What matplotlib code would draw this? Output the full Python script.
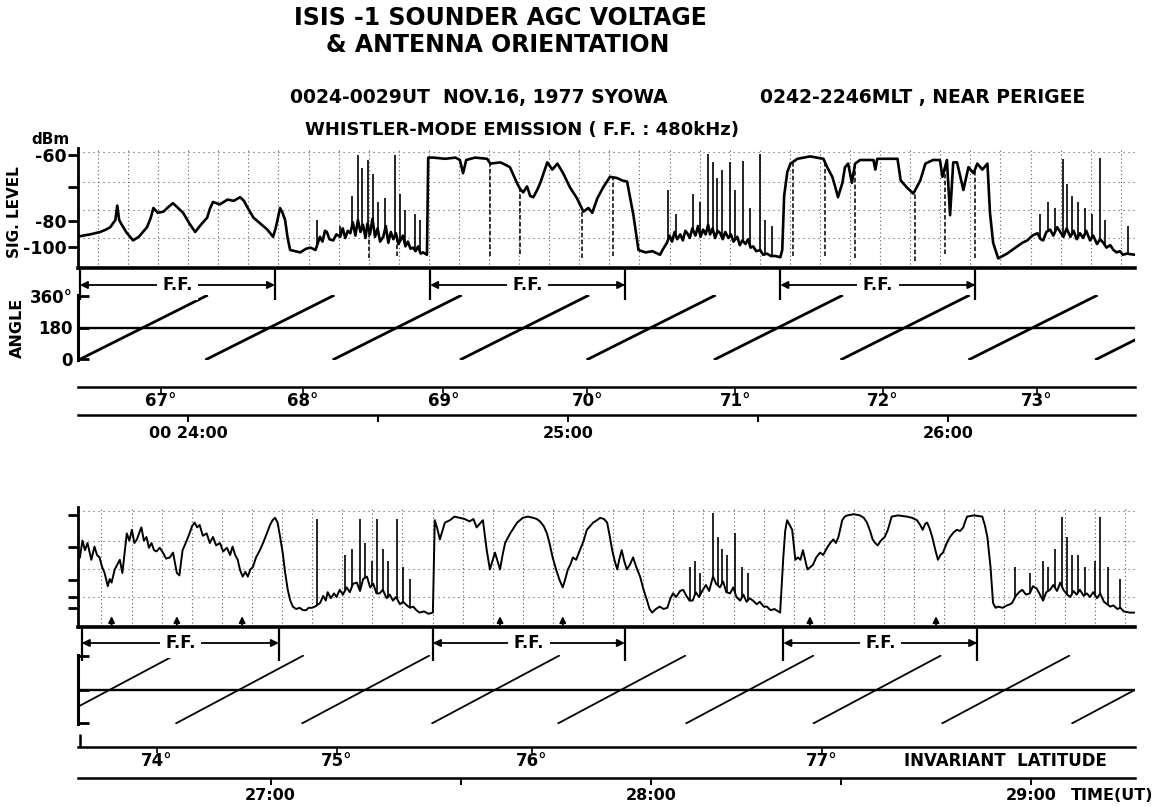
import matplotlib

matplotlib.use("Agg")
import matplotlib.pyplot as plt
import numpy as np
from matplotlib.ticker import MultipleLocator, NullLocator
from matplotlib.transforms import blended_transform_factory

plt.rcParams["font.family"] = ["DejaVu Sans"]
plt.rcParams["font.weight"] = "bold"

W, H = 1153, 807  # output size, pixels

# time: seconds after 00:24:00 UT
# signal: AGC recorder level, % of full scale above the base line
# angle: antenna orientation, degrees

# ---------------- upper strip ----------------
top_xlim = (-17.4, 149.5)
top_trace = [
    (-17.5, 26), (-16.6, 27), (-15.5, 28), (-13.9, 30), (-13.0, 32), (-12.3, 34),
    (-11.5, 40), (-11.2, 52), (-10.9, 40), (-10.7, 38), (-9.8, 30), (-8.7, 23),
    (-7.8, 26), (-6.5, 34), (-5.9, 42), (-5.5, 50), (-4.8, 46), (-3.9, 47),
    (-3.1, 51), (-2.4, 54), (-1.6, 50), (-0.8, 46), (0.2, 37), (1.1, 30),
    (2.0, 36), (3.0, 42), (3.4, 49), (3.9, 55), (5.0, 53), (6.2, 57), (7.2, 56),
    (8.2, 59), (8.8, 56), (9.3, 51), (10.3, 42), (11.4, 37), (12.5, 32),
    (13.4, 26), (13.8, 33), (14.1, 40), (14.5, 50), (14.9, 46), (15.3, 40),
    (15.7, 25), (16.1, 15), (17.7, 13), (18.6, 16), (19.3, 17), (20.1, 15),
    (20.8, 26), (21.2, 22), (21.6, 31), (21.9, 30), (22.3, 24), (22.9, 23),
    (23.4, 28), (24.0, 26), (24.4, 33), (24.8, 25), (25.2, 31), (25.6, 29),
    (26.0, 38), (26.4, 27), (26.8, 40), (27.2, 30), (27.6, 36), (28.0, 25),
    (28.3, 37), (28.7, 28), (29.1, 41), (29.5, 26), (29.9, 33), (30.3, 22),
    (30.8, 26), (31.2, 35), (31.6, 21), (32.0, 30), (32.4, 24), (32.8, 29),
    (33.2, 20), (33.5, 23), (33.9, 27), (34.3, 18), (34.7, 22), (35.1, 16),
    (35.5, 17), (35.9, 14), (36.3, 18), (36.7, 12), (37.1, 13), (37.7, 11),
    (37.9, 92), (38.7, 92), (40.6, 91), (42.2, 92), (42.9, 90), (43.4, 79),
    (43.9, 90), (45.3, 92), (47.2, 91), (47.7, 87), (49.3, 88), (50.1, 86),
    (50.8, 84), (51.9, 71), (52.4, 66), (52.9, 63), (53.5, 68), (54.0, 60),
    (54.5, 59), (55.1, 65), (55.6, 71), (56.7, 88), (57.5, 82), (58.3, 87),
    (59.2, 79), (60.3, 67), (61.4, 58), (62.4, 47), (63.2, 50), (63.8, 46),
    (64.6, 58), (65.5, 67), (66.6, 76), (67.7, 75), (68.5, 73), (69.3, 72),
    (70.3, 44), (71.1, 15), (72.2, 13), (73.3, 14), (74.5, 11), (75.0, 16),
    (75.6, 21), (76.0, 27), (76.4, 22), (76.8, 30), (77.2, 24), (77.7, 28),
    (78.1, 23), (78.5, 31), (78.8, 29), (79.2, 25), (79.6, 33), (80.1, 27),
    (80.5, 35), (80.9, 26), (81.3, 32), (81.7, 28), (82.1, 36), (82.4, 28),
    (82.8, 33), (83.2, 25), (83.6, 31), (84.0, 29), (84.4, 24), (84.8, 30),
    (85.3, 25), (85.7, 28), (86.1, 22), (86.7, 26), (87.1, 19), (87.5, 23),
    (88.0, 20), (88.4, 24), (88.8, 17), (89.2, 18), (89.7, 14), (90.3, 15),
    (90.8, 11), (91.4, 12), (92.0, 10), (92.7, 10), (93.5, 9),
    (93.8, 15), (94.1, 60), (94.6, 80), (95.1, 87), (96.2, 91), (98.2, 93),
    (100.3, 91), (100.9, 84), (101.7, 76), (102.2, 67), (102.6, 59), (103.3, 71),
    (103.7, 84), (104.2, 87), (104.8, 71), (105.3, 87), (106.1, 90), (108.2, 90),
    (108.5, 82), (108.8, 91), (112.0, 91), (112.5, 73), (113.5, 67), (114.5, 62),
    (115.6, 73), (116.4, 87), (117.6, 90), (118.7, 90), (119.1, 76), (119.8, 90),
    (120.3, 44), (120.8, 88), (121.4, 88), (122.4, 65), (123.2, 84), (124.0, 79),
    (124.6, 87), (125.4, 82), (126.2, 87), (126.6, 46), (127.1, 21), (127.9, 8),
    (128.6, 10), (129.3, 12), (130.1, 15), (130.9, 18), (131.7, 21), (132.5, 23),
    (133.3, 27), (134.1, 29), (134.6, 24), (135.0, 23), (135.5, 30), (136.1, 32),
    (136.6, 27), (137.2, 34), (137.7, 30), (138.2, 26), (138.7, 33), (139.3, 26),
    (139.8, 31), (140.3, 24), (140.8, 29), (141.3, 25), (141.8, 31), (142.4, 23),
    (142.9, 27), (143.5, 20), (144.0, 24), (144.5, 21), (145.0, 17), (145.6, 19),
    (146.1, 15), (146.6, 13), (147.1, 14), (147.6, 11), (148.2, 12), (149.5, 11),
]
top_spikes = [
    (20.4, 40), (24.0, 35), (25.9, 60), (26.8, 94), (27.5, 83), (28.4, 90),
    (29.2, 78), (30.0, 55), (31.1, 58), (32.7, 94), (33.5, 62), (34.3, 48),
    (35.8, 45), (36.6, 40), (75.8, 65), (77.1, 45), (79.7, 62), (80.8, 55),
    (82.1, 95), (82.9, 88), (83.5, 75), (84.3, 82), (85.6, 88), (86.4, 65),
    (87.6, 89), (88.7, 50), (90.3, 95), (91.1, 40), (92.2, 35), (134.5, 45),
    (135.8, 55), (136.9, 50), (138.2, 91), (138.8, 70), (139.6, 60), (140.5, 55),
    (141.6, 50), (142.7, 45), (144.0, 92), (144.8, 40), (148.4, 35),
]
top_dropouts = [
    (28.6, 8), (33.0, 10), (47.7, 10), (52.4, 12), (62.2, 8), (67.0, 10),
    (95.5, 10), (100.6, 10), (105.3, 8), (114.8, 6), (119.5, 12), (124.3, 8),
]
top_ramps = [
    (-17.1, 2.9), (2.9, 22.9), (23.0, 43.0), (43.1, 63.1), (63.1, 83.1),
    (83.2, 103.2), (103.2, 123.2), (123.4, 143.4), (143.4, 163.4),
]
top_ff = [(-17.1, 13.7), (38.2, 69.0), (93.5, 124.3)]
top_lat = [(-4.3, "67°"), (18.1, "68°"), (40.3, "69°"), (63.0, "70°"),
           (86.4, "71°"), (109.7, "72°"), (134.0, "73°")]
top_times = [(0, "00 24:00"), (30, ""), (60, "25:00"), (90, ""), (120, "26:00")]

# ---------------- lower strip ----------------
bot_xlim = (149.6, 316.4)
bot_trace = [
    (149.9, 58), (150.3, 72), (150.7, 64), (151.1, 70), (151.7, 56), (152.2, 67),
    (152.6, 60), (153.0, 58), (153.4, 50), (153.8, 45), (154.3, 34), (154.6, 40),
    (154.9, 37), (155.4, 48), (155.8, 52), (156.2, 56), (156.6, 45), (157.3, 78),
    (157.7, 72), (158.1, 81), (158.5, 70), (158.9, 73), (159.3, 79), (159.6, 83),
    (160.0, 72), (160.4, 75), (160.8, 66), (161.2, 70), (161.6, 64), (162.0, 63),
    (162.5, 66), (163.0, 62), (163.5, 57), (164.1, 58), (164.6, 62), (165.2, 45),
    (165.6, 43), (166.1, 64), (166.6, 70), (167.2, 78), (167.6, 84), (168.0, 87),
    (168.4, 83), (168.8, 85), (169.3, 76), (169.9, 78), (170.4, 70), (170.9, 75),
    (171.4, 68), (172.0, 70), (172.5, 63), (173.1, 66), (173.6, 60), (174.0, 67),
    (174.4, 60), (174.8, 56), (175.2, 47), (175.6, 42), (176.0, 46), (176.4, 42),
    (176.8, 48), (177.2, 50), (177.7, 58), (178.3, 64), (178.8, 70), (179.4, 78),
    (179.9, 85), (180.3, 89), (180.7, 91), (181.1, 87), (181.5, 75), (181.9, 62),
    (182.3, 45), (182.7, 31), (183.1, 22), (183.5, 17), (184.0, 15), (184.6, 16),
    (185.1, 14), (185.6, 14), (186.0, 16), (186.5, 16), (187.0, 17),
    (187.8, 20), (188.3, 26), (188.7, 22), (189.0, 29), (189.5, 24), (190.0, 28),
    (190.4, 25), (190.9, 31), (191.4, 27), (192.0, 33), (192.5, 29), (193.0, 36),
    (193.6, 37), (194.1, 30), (194.6, 40), (195.2, 42), (195.7, 33), (196.2, 36),
    (196.7, 28), (197.2, 28), (197.7, 31), (198.3, 24), (198.8, 27), (199.3, 22),
    (199.8, 25), (200.4, 19), (200.9, 21), (201.5, 18), (202.0, 16), (202.5, 17),
    (203.0, 14), (203.5, 12), (204.2, 13), (204.9, 11), (205.6, 12),
    (205.9, 89), (206.3, 82), (206.7, 73), (207.1, 80), (207.5, 87), (208.3, 89),
    (209.0, 92), (209.8, 91), (210.6, 90), (211.4, 88), (212.0, 90), (212.5, 83),
    (213.0, 86), (213.5, 89), (214.1, 64), (214.6, 48), (215.0, 55), (215.4, 62),
    (215.8, 55), (216.2, 48), (216.6, 60), (217.0, 70), (217.8, 78), (218.4, 83),
    (218.9, 87), (219.8, 91), (220.6, 92), (221.4, 91), (222.0, 90), (222.5, 88),
    (223.1, 84), (223.6, 78), (224.0, 70), (224.5, 58), (225.1, 47), (225.6, 39),
    (226.1, 33), (226.5, 40), (226.9, 48), (227.3, 52), (227.7, 58), (228.2, 56),
    (228.8, 64), (229.4, 72), (229.9, 81), (230.4, 84), (230.9, 87), (231.5, 89),
    (232.0, 91), (232.6, 90), (233.1, 87), (233.5, 76), (233.9, 64), (234.3, 55),
    (234.7, 48), (235.0, 56), (235.4, 64), (235.8, 55), (236.2, 48), (236.7, 52),
    (237.2, 58), (237.7, 50), (238.3, 42), (238.8, 32), (239.4, 22), (239.8, 15),
    (240.2, 12), (240.8, 15), (241.4, 17), (242.0, 15),
    (242.6, 16), (243.1, 24), (243.5, 28), (244.0, 25), (244.6, 30), (245.1, 31),
    (245.6, 26), (246.1, 22), (246.6, 22), (247.1, 29), (247.6, 25), (248.2, 31),
    (248.7, 35), (249.2, 30), (249.8, 42), (250.3, 36), (250.9, 33), (251.4, 38),
    (251.9, 29), (252.5, 28), (253.0, 33), (253.5, 25), (254.1, 22), (254.6, 27),
    (255.1, 21), (255.6, 24), (256.1, 22), (256.7, 19), (257.2, 21), (257.8, 17),
    (258.3, 17), (258.9, 14), (259.5, 15), (260.4, 12),
    (260.9, 58), (261.2, 80), (261.5, 89), (261.9, 85), (262.3, 81), (262.8, 56),
    (263.2, 58), (263.6, 56), (264.0, 64), (264.4, 55), (264.7, 48), (265.2, 50),
    (265.6, 52), (266.1, 58), (266.7, 62), (267.2, 60), (267.8, 66), (268.3, 70),
    (268.8, 73), (269.2, 70), (269.6, 75), (269.9, 82), (270.2, 89), (270.6, 92),
    (271.0, 93), (272.0, 94), (273.0, 93), (273.6, 91), (274.1, 87), (274.6, 80),
    (275.0, 73), (275.4, 70), (275.8, 68), (276.3, 72), (276.9, 75), (277.4, 81),
    (278.0, 92), (279.0, 93), (280.4, 92), (281.2, 91), (282.0, 89), (282.5, 85),
    (282.9, 81), (283.3, 86), (283.6, 87), (284.0, 82), (284.4, 75), (284.9, 64),
    (285.3, 56), (285.7, 60), (286.1, 62), (286.7, 70), (287.2, 75), (287.8, 79),
    (288.3, 81), (288.8, 80), (289.3, 83), (289.6, 88), (289.9, 92), (291.0, 93),
    (292.3, 92), (292.7, 85), (293.1, 75), (293.4, 60), (293.6, 50), (293.8, 35),
    (294.0, 20), (294.4, 16), (294.8, 17), (295.5, 16),
    (296.2, 18), (296.7, 19), (297.0, 20), (297.6, 26), (298.1, 29), (298.6, 31),
    (299.2, 27), (299.8, 28), (300.3, 34), (300.9, 32), (301.4, 27), (301.9, 22),
    (302.4, 29), (303.0, 31), (303.5, 35), (304.1, 30), (304.6, 37), (305.1, 31),
    (305.7, 27), (306.2, 25), (306.7, 30), (307.2, 27), (307.7, 31), (308.3, 26),
    (308.8, 28), (309.3, 25), (309.8, 29), (310.4, 24), (310.9, 28), (311.5, 21),
    (312.0, 19), (312.5, 17), (313.0, 18), (313.6, 15), (314.1, 16), (314.6, 13),
    (315.6, 12), (316.4, 12),
]
bot_spikes = [
    (187.3, 90), (191.7, 60), (192.8, 65), (194.1, 90), (194.9, 70), (196.0, 55),
    (196.8, 90), (197.7, 65), (198.5, 55), (199.9, 90), (200.9, 50), (202.0, 40),
    (246.2, 50), (247.0, 55), (247.8, 45), (249.8, 95), (250.6, 75), (251.2, 65),
    (252.0, 60), (253.3, 78), (254.4, 50), (255.4, 45), (297.5, 50), (299.8, 45),
    (301.9, 55), (302.7, 50), (303.8, 65), (304.9, 92), (305.7, 75), (306.5, 60),
    (307.4, 60), (308.5, 50), (310.1, 55), (310.9, 92), (312.2, 50), (314.1, 40),
]
bot_dropouts = []
bot_ramps = [
    (144.7, 164.7), (165.1, 185.1), (185.0, 205.0), (205.5, 225.5), (225.4, 245.4),
    (245.6, 265.6), (265.7, 285.7), (286.0, 306.0), (306.5, 326.5),
]
bot_ff = [(150.2, 181.3), (205.6, 235.9), (260.9, 291.5)]
bot_marks = [154.9, 165.2, 175.5, 216.2, 226.1, 265.1, 285.0]
bot_lat = [(162.0, "74°"), (190.4, "75°"), (221.2, "76°"), (267.0, "77°")]
bot_times = [(180, "27:00"), (210, ""), (240, "28:00"), (270, ""), (300, "29:00")]

# recorder calibration (dBm) and chart-paper grid, in recorder level
top_level_ticks = [94, 67.5, 39, 17.5]
top_level_labels = ["-60", "", "-80", "-100"]
bot_level_ticks = [93, 67, 39, 25, 16]
grid_levels = [97, 72, 48, 25]


def add_axes(fig, x0, y0, x1, y1):
    # pixel box (top-left origin) -> axes
    return fig.add_axes([x0 / W, 1 - y1 / H, (x1 - x0) / W, (y1 - y0) / H])


def signal_panel(fig, y0, y1, xlim, trace, spikes, dropouts, ticks, labels,
                 grid_offset, pen):
    ax = add_axes(fig, 78, y0, 1135, y1)
    t, lev = np.array(trace).T
    ax.set_xlim(xlim)
    ax.set_ylim(0, 100)
    for s in ("top", "right"):
        ax.spines[s].set_visible(False)
    ax.spines["left"].set_linewidth(2)
    ax.spines["bottom"].set_linewidth(2.6)
    ax.set_yticks(ticks, labels)
    ax.tick_params(axis="y", direction="out", length=7, width=2, labelsize=12.5, pad=1)
    ax.xaxis.set_major_locator(NullLocator())
    ax.xaxis.set_minor_locator(MultipleLocator(4.75, offset=grid_offset))
    ax.tick_params(axis="x", which="minor", length=0)
    ax.grid(True, which="minor", axis="x", color="0.35", lw=0.8, ls=(0, (1, 2.5)))
    for g in grid_levels:
        ax.axhline(g, color="0.35", lw=0.8, ls=(0, (1, 3.5)))
    ax.plot(t, lev, color="k", lw=pen, solid_joinstyle="round")
    if spikes:
        st, sl = np.array(spikes).T
        ax.vlines(st, np.interp(st, t, lev), sl, colors="k", lw=1.2)
    if dropouts:
        dt, dl = np.array(dropouts).T
        ax.vlines(dt, dl, np.interp(dt, t, lev), colors="k", lw=1.1, linestyles=(0, (3, 1.5)))
    return ax


def angle_panel(fig, y0, y1, xlim, ramps, labels, saw_lw, ff, ff_px):
    ax = add_axes(fig, 78, y0, 1135, y1)
    ax.set_xlim(xlim)
    ax.set_ylim(-4, 364)
    for s in ("top", "right", "bottom"):
        ax.spines[s].set_visible(False)
    ax.spines["left"].set_linewidth(2.2)
    ax.set_xticks([])
    ax.set_yticks([0, 180, 360], labels)
    ax.tick_params(axis="y", direction="in", length=8, width=2, labelsize=12, pad=4)
    ax.axhline(180, color="k", lw=1.7)
    for a, b in ramps:
        ax.plot([a, b], [0, 360], color="k", lw=saw_lw)

    # fixed-frequency intervals above the angle trace
    h = y1 - y0
    tr = blended_transform_factory(ax.transData, ax.transAxes)
    fy = 1 + ff_px[0] / h
    for a, b in ff:
        ax.annotate("", xy=(a, fy), xytext=(b, fy), xycoords=tr, textcoords=tr,
                    arrowprops=dict(arrowstyle="<|-|>", color="k", lw=1.3,
                                    mutation_scale=11, shrinkA=0, shrinkB=0),
                    annotation_clip=False)
        ax.vlines([a, b], 1 + ff_px[1] / h, 1 + ff_px[2] / h, transform=tr,
                  colors="k", lw=1.6, clip_on=False)
        ax.text((a + b) / 2, fy, "F.F.", transform=tr, ha="center", va="center",
                fontsize=12, bbox=dict(fc="white", ec="none", pad=4), clip_on=False)
    return ax


def scale_panel(fig, y0, y1, xlim, lat, times, left_tick=False):
    ax = add_axes(fig, 78, y0, 1135, y1)
    ax.set_xlim(xlim)
    ax.set_ylim(0, 1)
    ax.axis("off")
    h = y1 - y0
    ax.axhline(1, color="k", lw=1.8, clip_on=False)
    ax.axhline(0, color="k", lw=1.8, clip_on=False)
    for t, s in lat:
        ax.vlines(t, 1 - 6 / h, 1, colors="k", lw=1.2)
        ax.text(t, 1 - 14 / h, s, ha="center", va="center", fontsize=12)
    for t, s in times:
        ax.vlines(t, -7 / h, 0, colors="k", lw=1.4, clip_on=False)
        if s:
            ax.text(t, -18 / h, s, ha="center", va="center", fontsize=11.5)
    if left_tick:
        ax.vlines(xlim[0] + 0.3, 1, 1 + 13 / h, colors="k", lw=1.8, clip_on=False)
    return ax


fig = plt.figure(figsize=(W / 100, H / 100), dpi=100)


def px(x, y):
    return x / W, 1 - y / H


fig.text(*px(500, 18), "ISIS -1 SOUNDER AGC VOLTAGE", ha="center", va="center", fontsize=17)
fig.text(*px(498, 45), "& ANTENNA ORIENTATION", ha="center", va="center", fontsize=17)
fig.text(*px(290, 97), "0024-0029UT  NOV.16, 1977 SYOWA", ha="left", va="center", fontsize=13.5)
fig.text(*px(760, 97), "0242-2246MLT , NEAR PERIGEE", ha="left", va="center", fontsize=13.5)
fig.text(*px(305, 130), "WHISTLER-MODE EMISSION ( F.F. : 480kHz)", ha="left", va="center", fontsize=13)
fig.text(*px(50, 140), "dBm", ha="center", va="center", fontsize=11)
fig.text(*px(15, 212), "SIG. LEVEL", ha="center", va="center", rotation=90, fontsize=11)
fig.text(*px(17, 328), "ANGLE", ha="center", va="center", rotation=90, fontsize=11.5)

# upper strip
signal_panel(fig, 148, 268, top_xlim, top_trace, top_spikes, top_dropouts,
             top_level_ticks, top_level_labels, 0.0, 1.9)
angle_panel(fig, 295, 360, top_xlim, top_ramps, ["0", "180", "360°"], 2.0,
            top_ff, (10, -5, 26))
scale_panel(fig, 387, 415, top_xlim, top_lat, top_times)

# lower strip
ax = signal_panel(fig, 507, 627, bot_xlim, bot_trace, bot_spikes, bot_dropouts,
                  bot_level_ticks, [""] * len(bot_level_ticks), 1.3, 1.4)
for t in bot_marks:
    ax.annotate("", xy=(t, 9), xytext=(t, 0),
                arrowprops=dict(arrowstyle="-|>", color="k", lw=1.3,
                                mutation_scale=9, shrinkA=0, shrinkB=0))
angle_panel(fig, 655, 724, bot_xlim, bot_ramps, ["", "", ""], 1.3,
            bot_ff, (12, -6, 28))
sax = scale_panel(fig, 747, 778, bot_xlim, bot_lat, bot_times, left_tick=True)
sax.text(296, 1 - 14 / 31, "INVARIANT  LATITUDE", ha="center", va="center", fontsize=12)
sax.text(306.3, -18 / 31, "TIME(UT)", ha="left", va="center", fontsize=11.5)

fig.savefig("out.png", dpi=100, facecolor="white")
